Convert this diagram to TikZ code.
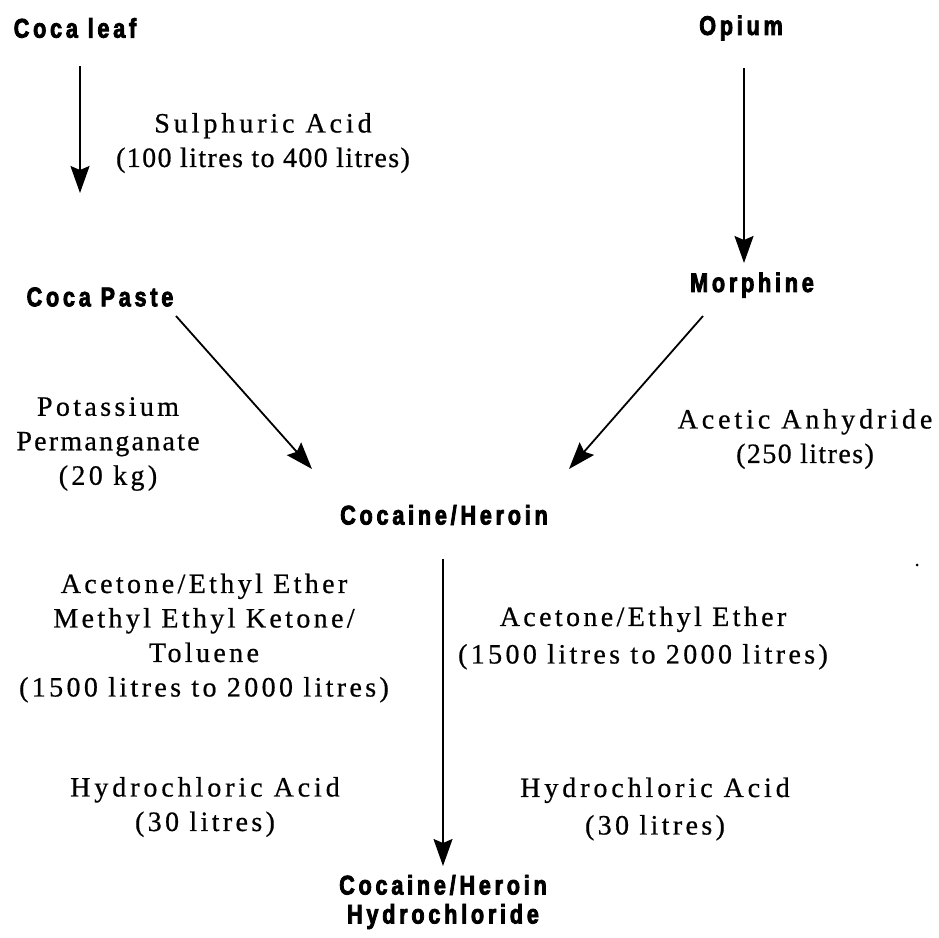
\documentclass[tikz,border=0pt]{standalone}
\usepackage{fontspec}
\usetikzlibrary{arrows.meta}
\newfontfamily\txtfont[LetterSpace=12,FakeBold=0.6]{Liberation Serif}
\newfontfamily\heavyfont[FakeStretch=0.8,LetterSpace=14,FakeBold=3]{Liberation Sans}
\newcommand\lsp[1]{\addfontfeature{LetterSpace=#1}}
\tikzset{
  heavy/.style={inner sep=0pt, align=center, font=\heavyfont\bfseries\fontsize{27}{29}\selectfont},
  chem/.style={inner sep=0pt, align=center, font=\txtfont\fontsize{28}{34.5}\selectfont},
  flow/.style={line width=1.8pt, -{Stealth[length=27pt,width=19pt,inset=4pt]}}
}
\begin{document}
\begin{tikzpicture}[x=1pt,y=-1pt]
\useasboundingbox (0,0) rectangle (939,937);
% main substances
\node[heavy] (cl) at (75,28) {Coca leaf};
\node[heavy] (op) at (741,28) {Opium};
\node[heavy] (cp) at (100,297) {Coca Paste};
\node[heavy] (mo) at (752,285) {Morphine};
\node[heavy] (ch) at (444,515) {Cocaine/Heroin};
\node[heavy] (hc) at (443,902) {Cocaine/Heroin\\Hydrochloride};
% reagents
\node[chem] (sa) at (263,143) {{\lsp{14}Sulphuric Acid}\\{\lsp{5}(100 litres to 400 litres)}};
\node[chem] (pp) at (108,444) {Potassium\\{\lsp{8}Permanganate}\\(20 kg)};
\node[chem] (aa) at (805,439) {{\lsp{14}Acetic Anhydride}\\{\lsp{5}(250 litres)}};
\node[chem] (le) at (204,638) {Acetone/Ethyl Ether\\Methyl Ethyl Ketone/\\Toluene\\(1500 litres to 2000 litres)};
\node[chem] (re) at (643,638) {Acetone/Ethyl Ether\\[3pt](1500 litres to 2000 litres)};
\node[chem] (lh) at (205,807) {{\lsp{14}Hydrochloric Acid}\\(30 litres)};
\node[chem] (rh) at (655,809) {{\lsp{14}Hydrochloric Acid}\\[3pt](30 litres)};
% connector ends
\coordinate (a1s) at (80,66);
\coordinate (a1e) at (80,193);
\coordinate (a2s) at (744,68);
\coordinate (a2e) at (744,263);
\coordinate (a3s) at (176,316);
\coordinate (a3e) at (312,469);
\coordinate (a4s) at (703,316);
\coordinate (a4e) at (569,469);
\coordinate (a5s) at (443,559);
\coordinate (a5e) at (443,866);
\draw[flow] (a1s) -- (a1e);
\draw[flow] (a2s) -- (a2e);
\draw[flow] (a3s) -- (a3e);
\draw[flow] (a4s) -- (a4e);
\draw[flow] (a5s) -- (a5e);
% stray speck
\fill (917,565) circle (1.5);
\end{tikzpicture}
\end{document}
